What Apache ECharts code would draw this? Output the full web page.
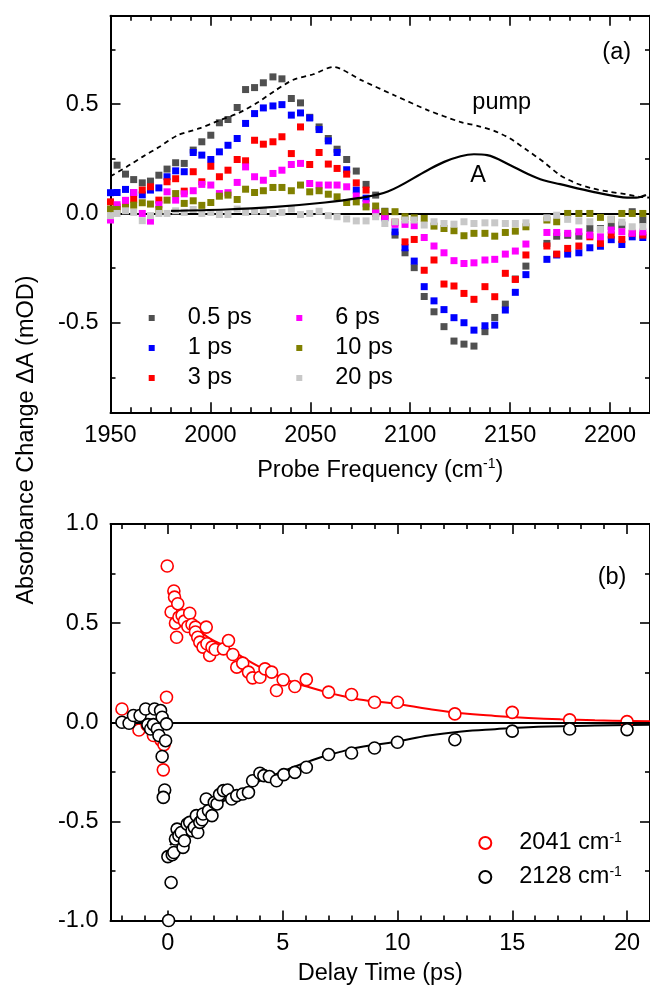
<!DOCTYPE html>
<html>
<head>
<meta charset="utf-8">
<script src="https://cdn.jsdelivr.net/npm/echarts@6/dist/echarts.min.js"></script>
<style>
  html, body { margin: 0; padding: 0; background: #fff; }
  #chart { width: 650px; height: 993px; }
</style>
</head>
<body>
<div id="chart"></div>
<script>
// ---- (a) transient spectra: probe frequencies (cm-1) and ΔA (mOD) per delay ----
const freqs = [1950, 1953.3, 1957.5, 1961.6, 1965.9, 1970.0, 1974.2, 1978.3, 1982.6, 1986.9,
  1991.4, 1995.7, 2000.2, 2004.5, 2008.8, 2013.4, 2017.6, 2022.1, 2026.5, 2031.3,
  2035.8, 2040.5, 2045.1, 2049.7, 2054.4, 2059.0, 2063.4, 2068.2, 2073.0, 2077.9,
  2082.7, 2087.3, 2092.4, 2097.4, 2102.0, 2107.0, 2111.9, 2116.9, 2121.9, 2126.9,
  2131.9, 2137.4, 2142.3, 2147.6, 2152.6, 2157.9, 2168.4, 2173.3, 2178.8, 2184.4,
  2189.9, 2195.2, 2200.6, 2205.9, 2211.1, 2216.4];

const dA_0p5ps = [null, 0.221, 0.180, 0.155, 0.140, 0.148, 0.175, 0.203, 0.232, 0.229,
  0.290, 0.328, 0.358, 0.415, 0.430, 0.485, 0.567, 0.576, 0.598, 0.625,
  0.616, 0.526, 0.506, 0.44, 0.396, 0.343, 0.294, 0.247, 0.194, 0.133,
  0.084, 0.01, -0.099, -0.18, -0.248, -0.38, -0.45, -0.518, -0.584, -0.598,
  -0.607, -0.541, -0.476, -0.415, -0.30, -0.241, -0.137, -0.104, -0.10, -0.104,
  -0.069, -0.069, -0.06, -0.053, 0.008, -0.03];

const dA_1ps = [0.095, 0.096, 0.110, 0.095, 0.085, 0.107, 0.117, 0.168, 0.195, 0.191,
  0.279, 0.267, 0.247, 0.282, 0.312, 0.343, 0.412, 0.457, 0.483, 0.492,
  0.498, 0.450, 0.460, 0.437, 0.384, 0.332, 0.279, 0.20, 0.107, 0.07,
  0.003, -0.02, -0.084, -0.157, -0.218, -0.335, -0.40, -0.44, -0.477, -0.50,
  -0.534, -0.514, -0.511, -0.442, -0.361, -0.28, -0.21, -0.19, -0.186, -0.18,
  -0.157, -0.15, -0.12, -0.142, -0.107, -0.11];

const dA_3ps = [0.053, 0.03, 0.053, 0.065, 0.107, 0.122, 0.061, 0.145, 0.159, 0.102,
  0.191, 0.145, 0.216, 0.168, 0.198, 0.247, 0.241, 0.335, 0.317, 0.328,
  0.351, 0.274, 0.396, 0.224, 0.279, 0.226, 0.206, 0.180, 0.14, 0.107,
  0.0, -0.01, -0.04, -0.13, -0.119, -0.26, -0.213, -0.323, -0.332, -0.366,
  -0.393, -0.335, -0.381, -0.274, -0.302, -0.19, -0.149, -0.186, -0.16, -0.149,
  -0.107, -0.137, -0.099, -0.119, -0.091, -0.099];

const dA_6ps = [-0.03, 0.04, 0.06, 0.096, 0.0, -0.035, 0.04, 0.099, 0.061, 0.09,
  0.104, 0.133, 0.13, 0.091, 0.095, 0.142, 0.213, 0.168, 0.152, 0.183,
  0.198, 0.224, 0.229, 0.137, 0.13, 0.13, 0.13, 0.122, 0.08, 0.045,
  0.01, -0.018, -0.05, -0.05, -0.056, -0.11, -0.149, -0.18, -0.216, -0.229,
  -0.226, -0.213, -0.21, -0.186, -0.172, -0.14, -0.087, -0.087, -0.091, -0.084,
  -0.099, -0.107, -0.076, -0.084, -0.09, -0.085];

const dA_10ps = [0.02, 0.018, 0.027, 0.038, 0.049, 0.043, 0.018, 0.061, 0.091, 0.046,
  0.058, 0.037, 0.05, 0.079, 0.084, 0.064, 0.111, 0.096, 0.104, 0.119,
  0.119, 0.104, 0.13, 0.099, 0.104, 0.088, 0.076, 0.05, 0.053, 0.03,
  0.034, 0.008, 0.008, -0.015, -0.02, -0.023, -0.058, -0.069, -0.079, -0.102,
  -0.091, -0.091, -0.104, -0.087, -0.081, -0.061, -0.03, -0.038, 0.0, 0.0,
  0.0, -0.018, -0.027, 0.0, 0.0, 0.0];

const dA_20ps = [-0.01, 0.0, 0.012, 0.005, -0.033, -0.01, 0.0, 0.0, 0.012, 0.005,
  0.018, 0.0, 0.005, -0.005, -0.005, 0.02, 0.005, 0.01, 0.01, 0.0,
  0.005, 0.02, -0.005, 0.0, 0.01, -0.01, -0.015, -0.025, -0.034, -0.034,
  -0.015, -0.046, -0.038, -0.03, -0.03, -0.053, -0.038, -0.046, -0.049, -0.038,
  -0.046, -0.043, -0.043, -0.046, -0.046, -0.043, -0.02, -0.008, -0.027, -0.034,
  -0.038, -0.073, -0.027, -0.04, -0.061, -0.06];

// pump spectrum (dashed) and ground-state band "A" (solid), scaled to the ΔA axis
const pumpFreq = [1950, 1958, 1966, 1974.5, 1983.6, 1994.4, 2004.3, 2014.2, 2024, 2032,
  2041.5, 2051.5, 2061.5, 2075.5, 2092, 2108.7, 2125, 2134, 2142, 2150,
  2158.4, 2166.7, 2175, 2183.3, 2191.5, 2200, 2208, 2215, 2220];
const pumpVal = [0.17, 0.213, 0.259, 0.305, 0.358, 0.389, 0.425, 0.46, 0.51, 0.56,
  0.612, 0.637, 0.671, 0.61, 0.541, 0.473, 0.419, 0.40, 0.378, 0.343,
  0.29, 0.236, 0.175, 0.137, 0.114, 0.099, 0.088, 0.076, 0.072];

const bandAFreq = [1980.3, 2007.7, 2032.5, 2057.4, 2073.9, 2088.8, 2108.7, 2117.0, 2125.2, 2131.9,
  2138.5, 2150.1, 2158.4, 2166.7, 2175.0, 2191.5, 2204.8, 2213.1, 2218];
const bandAVal = [0.012, 0.018, 0.03, 0.05, 0.07, 0.1, 0.198, 0.236, 0.262, 0.271,
  0.267, 0.221, 0.183, 0.152, 0.134, 0.099, 0.076, 0.072, 0.084];

const delayLabels = ['0.5 ps', '1 ps', '3 ps', '6 ps', '10 ps', '20 ps'];

// ---- (b) kinetics: delay (ps) and ΔA (mOD) at two probe frequencies ----
const t2041 = [-2.0, -1.26, -0.9, -0.63, -0.3, -0.17, -0.2, -0.06, -0.03, 0.14,
  0.26, 0.29, 0.33, 0.38, 0.43, 0.48, 0.62, 0.72, 0.87, 0.95,
  1.05, 1.2, 1.2, 1.3, 1.39, 1.53, 1.67, 1.7, 1.82, 1.92,
  2.06, 2.42, 2.64, 2.83, 3.0, 3.26, 3.51, 3.69, 4.01, 4.23,
  4.52, 4.73, 5.02, 5.53, 6.03, 7.0, 8.0, 9.0, 10.0, 12.5,
  15.0, 17.5, 20.0];
const dA2041 = [0.067, -0.039, -0.015, -0.067, -0.09, -0.113, -0.24, 0.126, 0.788, 0.556,
  0.662, 0.631, 0.5, 0.429, 0.598, 0.53, 0.539, 0.51, 0.483, 0.55,
  0.493, 0.48, 0.455, 0.429, 0.404, 0.379, 0.48, 0.396, 0.337, 0.379,
  0.367, 0.37, 0.412, 0.342, 0.278, 0.298, 0.253, 0.224, 0.227, 0.269,
  0.253, 0.16, 0.214, 0.18, 0.215, 0.152, 0.14, 0.101, 0.101, 0.042,
  0.05, 0.012, 0.003];

const t2128 = [-2.0, -1.69, -1.5, -1.21, -0.97, -0.87, -0.75, -0.58, -0.63, -0.46,
  -0.39, -0.32, -0.25, -0.06, -0.1, -0.25, -0.14, -0.2, 0.0, 0.14,
  0.03, 0.19, 0.26, 0.33, 0.4, 0.48, 0.58, 0.66, 0.72, 0.84,
  0.95, 1.05, 1.15, 1.24, 1.3, 1.39, 1.49, 1.53, 1.67, 1.77,
  1.92, 2.02, 2.14, 2.25, 2.42, 2.6, 2.78, 3.0, 3.26, 3.51,
  3.69, 4.01, 4.18, 4.42, 4.73, 5.05, 5.53, 6.03, 7.0, 8.0,
  9.0, 10.0, 12.5, 15.0, 17.5, 20.0];
const dA2128 = [0.0, -0.005, 0.034, 0.034, 0.067, -0.012, -0.034, 0.067, -0.012, -0.034,
  -0.067, 0.059, 0.025, -0.008, -0.093, -0.173, -0.342, -0.379, -0.678, -0.808,
  -1.0, -0.668, -0.657, -0.589, -0.539, -0.572, -0.556, -0.631, -0.598, -0.514,
  -0.505, -0.547, -0.53, -0.471, -0.556, -0.505, -0.492, -0.463, -0.387, -0.446,
  -0.471, -0.404, -0.412, -0.365, -0.345, -0.342, -0.387, -0.37, -0.362, -0.354,
  -0.295, -0.257, -0.269, -0.274, -0.295, -0.264, -0.253, -0.227, -0.163, -0.155,
  -0.13, -0.101, -0.088, -0.045, -0.034, -0.037];

// fitted decay curves
const fitT2041 = [0.12, 0.5, 1.13, 1.8, 2.57, 3.3, 4.01, 4.7, 5.45, 6.2,
  6.9, 7.6, 8.34, 9.93, 11.37, 12.8, 14.25, 15.7, 17.1, 18.6, 21];
const fitV2041 = [0.556, 0.52, 0.48, 0.425, 0.379, 0.325, 0.278, 0.24, 0.202, 0.175,
  0.152, 0.132, 0.115, 0.093, 0.067, 0.045, 0.032, 0.022, 0.015, 0.01, 0.005];
const fitT2128 = [0.1, 0.26, 0.7, 1.13, 1.85, 2.57, 3.29, 4.01, 4.73, 5.45,
  6.2, 6.9, 7.6, 8.34, 9.93, 11.37, 12.8, 14.25, 15.7, 18.6, 21];
const fitV2128 = [-0.62, -0.598, -0.56, -0.522, -0.446, -0.387, -0.345, -0.295, -0.261, -0.227,
  -0.195, -0.168, -0.147, -0.126, -0.098, -0.067, -0.047, -0.035, -0.025, -0.017, -0.012];

// axis tick positions
const freqMajor = [1950, 2000, 2050, 2100, 2150, 2200];
const freqMinor = [1960, 1970, 1980, 1990, 2010, 2020, 2030, 2040, 2060, 2070, 2080, 2090,
  2110, 2120, 2130, 2140, 2160, 2170, 2180, 2190, 2210];
const dAMajorA = [-0.5, 0, 0.5];
const dAMinorA = [-0.75, -0.25, 0.25, 0.75];
const delayMajor = [0, 5, 10, 15, 20];
const delayMinor = [-2, -1, 1, 2, 3, 4, 6, 7, 8, 9, 11, 12, 13, 14, 16, 17, 18, 19];
const dAMajorB = [-1, -0.5, 0, 0.5, 1];
const dAMinorB = [-0.75, -0.25, 0.25, 0.75];

// ---------------------------------------------------------------------------
const FONT = '"Liberation Sans", Arial, Helvetica, sans-serif';
const FS = 23.5;
const zip = (xs, ys) => xs.map((x, i) => [x, ys[i]]);

// one axis carrying line, major ticks and labels, plus an overlaid axis for minor ticks
function axisPair(grid, min, max, major, minor, position, labelOpts) {
  const common = {
    type: 'value', gridIndex: grid, min: min, max: max, position: position,
    splitLine: { show: false }
  };
  const main = Object.assign({}, common, {
    axisLine: { show: true, onZero: false, lineStyle: { color: '#000', width: 2 } },
    axisTick: { show: true, inside: true, length: 10, customValues: major,
      lineStyle: { color: '#000', width: 1.6 } },
    axisLabel: labelOpts ? Object.assign({ show: true, customValues: major,
      color: '#000', fontFamily: FONT, fontSize: FS }, labelOpts) : { show: false }
  });
  const sub = Object.assign({}, common, {
    axisLine: { show: false, onZero: false },
    axisTick: { show: true, inside: true, length: 5, customValues: minor,
      lineStyle: { color: '#000', width: 1.6 } },
    axisLabel: { show: false }
  });
  return [main, sub];
}

const fmt1 = v => v.toFixed(1);
const GA = { left: 110.5, width: 543.4, top: 15.7, height: 396.6 };
const GB = { left: 110.5, width: 543.0, top: 524, height: 396.5 };

const xAxes = [].concat(
  axisPair(0, 1950, 2220, freqMajor, freqMinor, 'bottom', { margin: 11, formatter: v => String(v) }),
  axisPair(0, 1950, 2220, freqMajor, freqMinor, 'top', null),
  axisPair(1, -2.5, 21, delayMajor, delayMinor, 'bottom', { margin: 11, formatter: v => String(v) }),
  axisPair(1, -2.5, 21, delayMajor, delayMinor, 'top', null)
);
const yAxes = [].concat(
  axisPair(0, -0.91, 0.905, dAMajorA, dAMinorA, 'left', { margin: 12, formatter: fmt1 }),
  axisPair(0, -0.91, 0.905, dAMajorA, dAMinorA, 'right', null),
  axisPair(1, -1, 1, dAMajorB, dAMinorB, 'left', { margin: 12, formatter: fmt1 }),
  axisPair(1, -1, 1, dAMajorB, dAMinorB, 'right', null)
);

// x-axis titles (with superscript)
xAxes[0].name = '{n|Probe Frequency (cm}{s|-1}{n|)}';
xAxes[0].nameLocation = 'middle';
xAxes[0].nameGap = 45;
xAxes[0].nameTextStyle = {
  rich: {
    n: { fontFamily: FONT, fontSize: FS, color: '#000', lineHeight: 26 },
    s: { fontFamily: FONT, fontSize: 14, color: '#000', verticalAlign: 'top', lineHeight: 16 }
  }
};
xAxes[4].name = 'Delay Time (ps)';
xAxes[4].nameLocation = 'middle';
xAxes[4].nameGap = 41;
xAxes[4].nameTextStyle = { fontFamily: FONT, fontSize: FS, color: '#000' };

const specColors = ['#505050', '#0000ff', '#ff0000', '#ff00ff', '#808000', '#c8c8c8'];
const specData = [dA_0p5ps, dA_1ps, dA_3ps, dA_6ps, dA_10ps, dA_20ps];

const series = [];
specData.forEach((vals, k) => {
  series.push({
    name: delayLabels[k], type: 'scatter', xAxisIndex: 0, yAxisIndex: 0,
    symbol: 'rect', symbolSize: 7,
    itemStyle: { color: specColors[k], opacity: 1 },
    data: zip(freqs, vals).filter(p => p[1] !== null),
    z: 3 + k
  });
});
series.push({
  name: 'zeroA', type: 'line', xAxisIndex: 0, yAxisIndex: 0, data: [],
  markLine: { silent: true, symbol: ['none', 'none'], label: { show: false },
    lineStyle: { color: '#000', width: 1.8, type: 'solid' }, data: [{ yAxis: 0 }] },
  z: 2
});
series.push({
  name: 'pump', type: 'line', xAxisIndex: 0, yAxisIndex: 0, data: zip(pumpFreq, pumpVal),
  showSymbol: false, smooth: 0.25,
  lineStyle: { color: '#000', width: 1.8, type: [5, 4] }, z: 10
});
series.push({
  name: 'A', type: 'line', xAxisIndex: 0, yAxisIndex: 0, data: zip(bandAFreq, bandAVal),
  showSymbol: false, smooth: 0.35,
  lineStyle: { color: '#000', width: 2.2 }, z: 10
});

// panel (b)
series.push({
  name: 'zeroB', type: 'line', xAxisIndex: 4, yAxisIndex: 4, data: [],
  markLine: { silent: true, symbol: ['none', 'none'], label: { show: false },
    lineStyle: { color: '#000', width: 1.8, type: 'solid' }, data: [{ yAxis: 0 }] },
  z: 2
});
series.push({
  name: 'fit2041', type: 'line', xAxisIndex: 4, yAxisIndex: 4, data: zip(fitT2041, fitV2041),
  showSymbol: false, smooth: 0.4, lineStyle: { color: '#ff0000', width: 2 }, z: 3
});
series.push({
  name: 'fit2128', type: 'line', xAxisIndex: 4, yAxisIndex: 4, data: zip(fitT2128, fitV2128),
  showSymbol: false, smooth: 0.4, lineStyle: { color: '#000', width: 2 }, z: 3
});
series.push({
  name: '2041', type: 'scatter', xAxisIndex: 4, yAxisIndex: 4, data: zip(t2041, dA2041),
  symbol: 'circle', symbolSize: 12,
  itemStyle: { color: '#fff', borderColor: '#ff0000', borderWidth: 1.6, opacity: 1 }, z: 4
});
series.push({
  name: '2128', type: 'scatter', xAxisIndex: 4, yAxisIndex: 4, data: zip(t2128, dA2128),
  symbol: 'circle', symbolSize: 12,
  itemStyle: { color: '#fff', borderColor: '#000', borderWidth: 1.6, opacity: 1 }, z: 5
});

const legendText = { fontFamily: FONT, fontSize: FS, color: '#000', lineHeight: 24 };

const option = {
  animation: false,
  backgroundColor: '#fff',
  grid: [
    Object.assign({ containLabel: false }, GA),
    Object.assign({ containLabel: false }, GB)
  ],
  xAxis: xAxes,
  yAxis: yAxes,
  legend: [
    {
      data: delayLabels.slice(0, 3), orient: 'vertical', left: 148.7, top: 306, padding: 0,
      itemWidth: 6, itemHeight: 6, itemGap: 6, icon: 'rect', selectedMode: false,
      textStyle: Object.assign({ padding: [0, 0, 0, 28] }, legendText)
    },
    {
      data: delayLabels.slice(3), orient: 'vertical', left: 296.3, top: 306, padding: 0,
      itemWidth: 6, itemHeight: 6, itemGap: 6, icon: 'rect', selectedMode: false,
      textStyle: Object.assign({ padding: [0, 0, 0, 28] }, legendText)
    },
    {
      data: ['2041', '2128'], orient: 'vertical', left: 478.3, top: 831, padding: 0,
      itemWidth: 12, itemHeight: 12, itemGap: 10, icon: 'circle', selectedMode: false,
      formatter: name => '{n|' + name + ' cm}{s|-1}',
      textStyle: {
        padding: [0, 0, 0, 23],
        rich: {
          n: { fontFamily: FONT, fontSize: FS, color: '#000', lineHeight: 24 },
          s: { fontFamily: FONT, fontSize: 14, color: '#000', verticalAlign: 'top', lineHeight: 14 }
        }
      }
    }
  ],
  graphic: [
    { type: 'text', x: 616.7, y: 53, style: { text: '(a)', font: FS + 'px ' + FONT, fill: '#000',
      align: 'center', verticalAlign: 'middle', textAlign: 'center', textVerticalAlign: 'middle' } },
    { type: 'text', x: 501.7, y: 103, style: { text: 'pump', font: FS + 'px ' + FONT, fill: '#000',
      align: 'center', verticalAlign: 'middle', textAlign: 'center', textVerticalAlign: 'middle' } },
    { type: 'text', x: 478, y: 176, style: { text: 'A', font: FS + 'px ' + FONT, fill: '#000',
      align: 'center', verticalAlign: 'middle', textAlign: 'center', textVerticalAlign: 'middle' } },
    { type: 'text', x: 612, y: 578, style: { text: '(b)', font: FS + 'px ' + FONT, fill: '#000',
      align: 'center', verticalAlign: 'middle', textAlign: 'center', textVerticalAlign: 'middle' } },
    { type: 'text', x: 27, y: 440, rotation: Math.PI / 2,
      style: { text: 'Absorbance Change ΔA (mOD)', font: FS + 'px ' + FONT, fill: '#000',
        align: 'center', verticalAlign: 'middle', textAlign: 'center', textVerticalAlign: 'middle' } }
  ],
  series: series
};

const chart = echarts.init(document.getElementById('chart'), null, { renderer: 'canvas' });
chart.setOption(option);
</script>
</body>
</html>
